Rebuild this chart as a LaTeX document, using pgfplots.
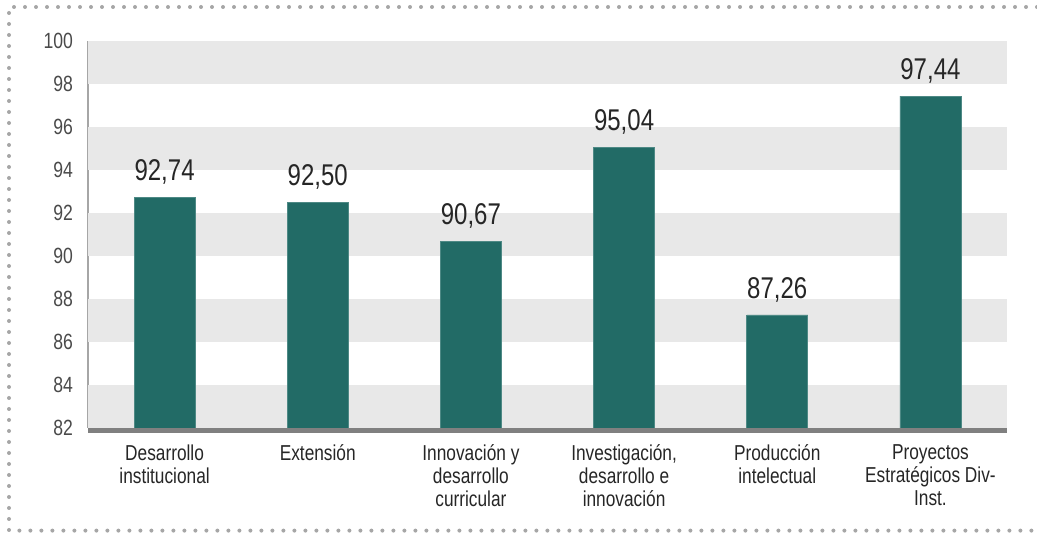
\documentclass[border=0pt]{standalone}
\usepackage{pgfplots}
\pgfplotsset{compat=1.18}
\usepackage{fontspec}
\setmainfont{Liberation Sans}[FakeStretch=0.8]
\definecolor{barc}{HTML}{226B66}
\definecolor{bandc}{HTML}{E8E8E8}
\definecolor{dotc}{HTML}{A6A6A6}
\definecolor{ticklc}{HTML}{4A4A4A}
\definecolor{txtc}{HTML}{262626}
\definecolor{xaxc}{HTML}{808080}
\definecolor{yaxc}{HTML}{A6A6A6}
\begin{document}
\begin{tikzpicture}
\useasboundingbox (0,0) rectangle (518.5pt,266.5pt);
\draw[dotc, line width=2pt, line cap=round, dash pattern=on 0pt off 5.5pt]
  (518.5pt,263pt) -- (4.5pt,263pt) -- (4.5pt,1.2pt) -- (518.5pt,1.2pt);
\begin{axis}[
  at={(44pt,52.5pt)}, anchor=south west,
  scale only axis,
  width=459.5pt, height=193.5pt,
  xmin=-0.5, xmax=5.5, ymin=82, ymax=100,
  ybar, bar width=30.5pt,
  axis x line*=bottom, axis y line*=left,
  x axis line style={-, line width=5pt, draw=xaxc},
  y axis line style={-, line width=1pt, draw=yaxc},
  xtick={0,1,2,3,4,5},
  xticklabels={{Desarrollo\\institucional},{Extensión},{Innovación y\\desarrollo\\curricular},{Investigación,\\desarrollo e\\innovación},{Producción\\intelectual},{Proyectos\\Estratégicos Div-\\Inst.}},
  x tick label style={align=center, font=\fontsize{10.8}{11.5}\selectfont, text=txtc, anchor=north, yshift=-5pt},
  ytick={82,84,...,100},
  y tick label style={font=\fontsize{11}{12}\selectfont, text=ticklc, xshift=-4pt},
  /pgf/number format/assume math mode=true,
  major tick length=0pt,
  nodes near coords,
  nodes near coords style={font=\fontsize{15}{17}\selectfont, text=txtc, anchor=south, yshift=3pt,
    /pgf/number format/.cd, fixed, fixed zerofill, precision=2, use comma, assume math mode=true},
]
\fill[bandc] (axis cs:-0.5,98) rectangle (axis cs:5.5,100);
\fill[bandc] (axis cs:-0.5,94) rectangle (axis cs:5.5,96);
\fill[bandc] (axis cs:-0.5,90) rectangle (axis cs:5.5,92);
\fill[bandc] (axis cs:-0.5,86) rectangle (axis cs:5.5,88);
\fill[bandc] (axis cs:-0.5,82) rectangle (axis cs:5.5,84);
\addplot[fill=barc, draw=barc!80!white, line width=0.3pt] coordinates {
 (0,92.74) (1,92.50) (2,90.67) (3,95.04) (4,87.26) (5,97.44)};
\end{axis}
\end{tikzpicture}
\end{document}
